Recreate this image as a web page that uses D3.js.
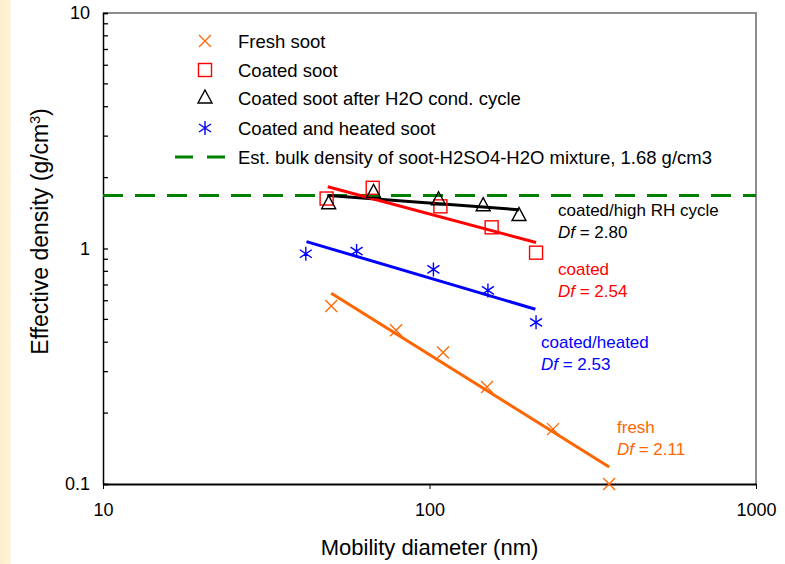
<!DOCTYPE html>
<html>
<head>
<meta charset="utf-8">
<script src="https://cdn.jsdelivr.net/npm/d3@7"></script>
<style>
  body { margin: 0; background: #fff; }
  svg { display: block; font-family: "Liberation Sans", Arial, sans-serif; }
</style>
</head>
<body>
<script>
// measured points (mobility diameter nm, effective density g/cm3)
const freshD = [50, 79, 110, 150, 239, 355];
const freshRho = [0.57, 0.45, 0.362, 0.258, 0.171, 0.1];
const coatedD = [48.4, 67, 108, 155, 212];
const coatedRho = [1.63, 1.81, 1.51, 1.23, 0.96];
const humidD = [49.1, 67.4, 106.6, 146, 188];
const humidRho = [1.55, 1.73, 1.61, 1.52, 1.38];
const heatedD = [41.8, 59.8, 102.8, 151, 212];
const heatedRho = [0.95, 0.975, 0.815, 0.664, 0.486];

// power-law fit lines, end points
const freshFitD = [50, 355], freshFitRho = [0.645, 0.118];
const coatedFitD = [48.8, 212], coatedFitRho = [1.83, 1.06];
const humidFitD = [49, 188], humidFitRho = [1.68, 1.46];
const heatedFitD = [42, 211], heatedFitRho = [1.07, 0.552];

const bulkDensity = 1.68;
const xTicks = [10, 100, 1000];
const yTicks = [0.1, 1, 10];

const width = 785, height = 564;
const margin = { left: 103, top: 13, right: 29, bottom: 80 };
const innerWidth = width - margin.left - margin.right;
const innerHeight = height - margin.top - margin.bottom;
const font = '"Liberation Sans", Arial, sans-serif';

const svg = d3.select('body').append('svg')
  .attr('width', width)
  .attr('height', height);

// beige strip on the left edge
const grad = svg.append('defs').append('linearGradient').attr('id', 'strip');
grad.append('stop').attr('offset', '0%').attr('stop-color', '#fbeecb');
grad.append('stop').attr('offset', '100%').attr('stop-color', '#fdf4dc');
svg.append('rect').attr('width', 11).attr('height', height).attr('fill', 'url(#strip)');

const g = svg.append('g').attr('transform', `translate(${margin.left},${margin.top})`);

const x = d3.scaleLog().domain([10, 1000]).range([0, innerWidth]);
const y = d3.scaleLog().domain([0.1, 10]).range([innerHeight, 0]);

// plot border top/right
g.append('path')
  .attr('d', `M0,0H${innerWidth}V${innerHeight}`)
  .attr('fill', 'none').attr('stroke', '#8c8c8c').attr('stroke-width', 2);

// y axis with minor ticks inside
const yMinor = [];
[0.1, 1].forEach(b => { for (let k = 2; k <= 9; k++) yMinor.push(b * k); });
g.selectAll('.yminor').data(yMinor).enter().append('line')
  .attr('x1', 0).attr('x2', 5)
  .attr('y1', d => y(d)).attr('y2', d => y(d))
  .attr('stroke', '#000').attr('stroke-width', 1.3);

const yAxis = g.append('g')
  .call(d3.axisLeft(y).tickValues(yTicks).tickFormat(d => d3.format('~g')(d)).tickSize(-5).tickPadding(13));
yAxis.select('.domain').attr('stroke-width', 1.5);
yAxis.selectAll('.tick line').attr('stroke-width', 1.3);
yAxis.selectAll('text').attr('font-size', 18).attr('fill', '#000').attr('font-family', font);

const xAxis = g.append('g')
  .attr('transform', `translate(0,${innerHeight})`)
  .call(d3.axisBottom(x).tickValues(xTicks).tickFormat(d3.format('d')).tickSize(5).tickSizeOuter(0).tickPadding(14));
xAxis.select('.domain').attr('stroke-width', 2);
xAxis.selectAll('text').attr('font-size', 18).attr('fill', '#000').attr('font-family', font);

// axis titles
svg.append('text')
  .attr('text-anchor', 'middle')
  .attr('transform', `translate(${margin.left + x(100)},555)`)
  .attr('font-size', 22)
  .text('Mobility diameter (nm)');

const yTitle = svg.append('text')
  .attr('text-anchor', 'middle')
  .attr('transform', `translate(48,${margin.top + y(1) - 17}) rotate(-90)`)
  .attr('font-size', 23);
yTitle.append('tspan').text('Effective density (g/cm');
yTitle.append('tspan').attr('dy', -8).attr('font-size', 14).text('3');
yTitle.append('tspan').attr('dy', 8).text(')');

// bulk density line
const green = '#008000';
g.append('line')
  .attr('x1', 0).attr('x2', innerWidth)
  .attr('y1', y(bulkDensity)).attr('y2', y(bulkDensity))
  .attr('stroke', green).attr('stroke-width', 3)
  .attr('stroke-dasharray', '20,12');

// fit lines
const line = d3.line().x(d => x(d[0])).y(d => y(d[1]));
const fits = [
  { d: humidFitD, r: humidFitRho, c: '#000' },
  { d: coatedFitD, r: coatedFitRho, c: '#ff0000' },
  { d: heatedFitD, r: heatedFitRho, c: '#0000ff' },
  { d: freshFitD, r: freshFitRho, c: '#ff6600' }
];
fits.forEach(f => {
  g.append('path')
    .datum(d3.zip(f.d, f.r))
    .attr('d', line)
    .attr('fill', 'none')
    .attr('stroke', f.c)
    .attr('stroke-width', 3);
});

// marker symbols
function drawMarker(sel, type, color) {
  if (type === 'cross') {
    sel.append('path').attr('d', 'M-6,-6L6,6M-6,6L6,-6')
      .attr('stroke', color).attr('stroke-width', 1.3).attr('fill', 'none');
  } else if (type === 'square') {
    sel.append('rect').attr('x', -6.5).attr('y', -6.5).attr('width', 13).attr('height', 13)
      .attr('stroke', color).attr('stroke-width', 1.4).attr('fill', 'none');
  } else if (type === 'triangle') {
    sel.append('path').attr('d', 'M0,-8L7,5L-7,5Z')
      .attr('stroke', color).attr('stroke-width', 1.4).attr('fill', 'none');
  } else if (type === 'star') {
    sel.append('path').attr('d', 'M0,-7L0,7M-6,-4L6,4M-6,4L6,-4')
      .attr('stroke', color).attr('stroke-width', 1.4).attr('fill', 'none');
  }
}

const series = [
  { name: 'Fresh soot', d: freshD, r: freshRho, type: 'cross', c: '#ff6600' },
  { name: 'Coated soot', d: coatedD, r: coatedRho, type: 'square', c: '#ff0000' },
  { name: 'Coated soot after H2O cond. cycle', d: humidD, r: humidRho, type: 'triangle', c: '#000' },
  { name: 'Coated and heated soot', d: heatedD, r: heatedRho, type: 'star', c: '#0000ff' }
];
series.forEach(s => {
  g.selectAll(null).data(d3.zip(s.d, s.r)).enter().append('g')
    .attr('transform', d => `translate(${x(d[0])},${y(d[1])})`)
    .each(function () { drawMarker(d3.select(this), s.type, s.c); });
});

// legend
const legend = svg.append('g');
const legendRows = [41, 70, 98, 128];
series.forEach((s, i) => {
  const row = legend.append('g').attr('transform', `translate(205,${legendRows[i]})`);
  drawMarker(row, s.type, s.c);
  row.append('text').attr('x', 33).attr('y', 6.5).attr('font-size', 18.5).text(s.name);
});
const bulkRow = legend.append('g').attr('transform', 'translate(205,157)');
bulkRow.append('line').attr('x1', -30).attr('x2', 20)
  .attr('stroke', green).attr('stroke-width', 3).attr('stroke-dasharray', '18,14');
bulkRow.append('text').attr('x', 33).attr('y', 6.5).attr('font-size', 18.5)
  .text('Est. bulk density of soot-H2SO4-H2O mixture, 1.68 g/cm3');

// fit annotations
const notes = [
  { x: 558, y: 216, label: 'coated/high RH cycle', df: '2.80', c: '#000' },
  { x: 558, y: 275, label: 'coated', df: '2.54', c: '#ff0000' },
  { x: 541, y: 348, label: 'coated/heated', df: '2.53', c: '#0000ff' },
  { x: 617, y: 433, label: 'fresh', df: '2.11', c: '#ff6600' }
];
notes.forEach(n => {
  svg.append('text').attr('x', n.x).attr('y', n.y).attr('font-size', 17).attr('fill', n.c).text(n.label);
  const t = svg.append('text').attr('x', n.x).attr('y', n.y + 22).attr('font-size', 17).attr('fill', n.c);
  t.append('tspan').attr('font-style', 'italic').text('Df');
  t.append('tspan').text(' = ' + n.df);
});
</script>
</body>
</html>
